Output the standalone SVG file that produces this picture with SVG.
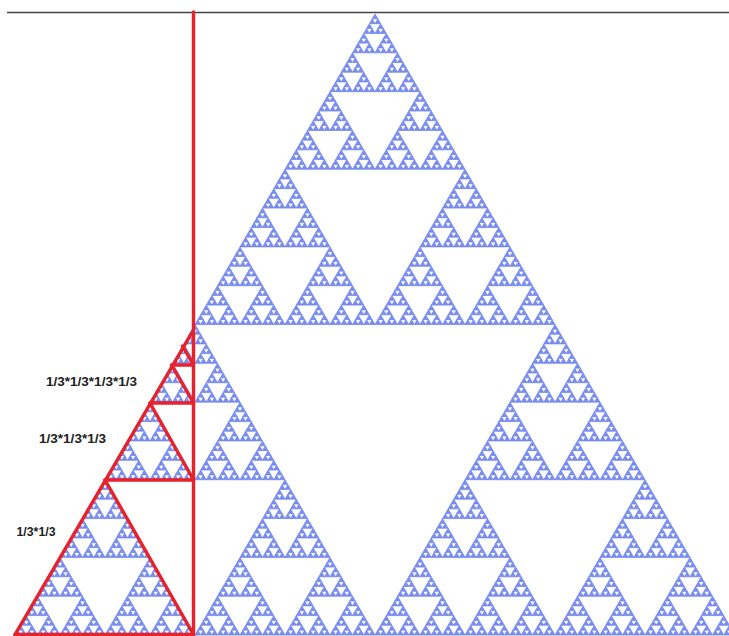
<svg xmlns="http://www.w3.org/2000/svg" xmlns:xlink="http://www.w3.org/1999/xlink" width="729" height="636" viewBox="0 0 729 636">
<style>
.red{stroke:#e8212b;stroke-width:3.4;fill:none;stroke-linecap:round;stroke-linejoin:round}
.lbl{font-family:"Liberation Sans",Arial,sans-serif;font-weight:bold;font-size:12px;fill:#222}
</style>
<defs>
<polygon id="L0" points="0,0 -1,1 1,1" fill="#7b8ff0" stroke="#6a80ec" stroke-width="0.7" vector-effect="non-scaling-stroke"/>
<g id="L1"><use href="#L0" transform="scale(.5)"/><use href="#L0" transform="translate(-.5,.5) scale(.5)"/><use href="#L0" transform="translate(.5,.5) scale(.5)"/></g>
<g id="L2"><use href="#L1" transform="scale(.5)"/><use href="#L1" transform="translate(-.5,.5) scale(.5)"/><use href="#L1" transform="translate(.5,.5) scale(.5)"/></g>
<g id="L3"><use href="#L2" transform="scale(.5)"/><use href="#L2" transform="translate(-.5,.5) scale(.5)"/><use href="#L2" transform="translate(.5,.5) scale(.5)"/></g>
<g id="L4"><use href="#L3" transform="scale(.5)"/><use href="#L3" transform="translate(-.5,.5) scale(.5)"/><use href="#L3" transform="translate(.5,.5) scale(.5)"/></g>
<g id="L5"><use href="#L4" transform="scale(.5)"/><use href="#L4" transform="translate(-.5,.5) scale(.5)"/><use href="#L4" transform="translate(.5,.5) scale(.5)"/></g>
<g id="L6"><use href="#L5" transform="scale(.5)"/><use href="#L5" transform="translate(-.5,.5) scale(.5)"/><use href="#L5" transform="translate(.5,.5) scale(.5)"/></g>
<g id="L7"><use href="#L6" transform="scale(.5)"/><use href="#L6" transform="translate(-.5,.5) scale(.5)"/><use href="#L6" transform="translate(.5,.5) scale(.5)"/></g>
</defs>
<rect width="729" height="636" fill="#fff"/>
<line x1="7" y1="12.5" x2="729" y2="12.5" stroke="#444" stroke-width="1.5"/>
<g id="sierpinski">
<use href="#L7" transform="translate(375,14) scale(360,621)"/>
</g>
<g id="red-overlay">
<line class="red" x1="193.5" y1="12" x2="193.5" y2="636"/>
<line class="red" x1="15" y1="634.5" x2="193.5" y2="634.5"/>
<line class="red" x1="15" y1="634.5" x2="193.5" y2="330"/>
<polyline class="red" points="105,480 193.5,634.5"/>
<line class="red" x1="105" y1="480" x2="193.5" y2="480"/>
<polyline class="red" points="150,403 193.5,480"/>
<line class="red" x1="150" y1="403" x2="193.5" y2="403"/>
<polyline class="red" points="171.5,365 193.5,403"/>
<line class="red" x1="171.5" y1="365" x2="193.5" y2="365"/>
<polyline class="red" points="182.5,346 193.5,365"/>
</g>
<g id="labels">
<text class="lbl" x="46" y="386" textLength="91" lengthAdjust="spacingAndGlyphs">1/3*1/3*1/3*1/3</text>
<text class="lbl" x="39" y="443" textLength="67" lengthAdjust="spacingAndGlyphs">1/3*1/3*1/3</text>
<text class="lbl" x="16.5" y="536" textLength="39" lengthAdjust="spacingAndGlyphs">1/3*1/3</text>
</g>
</svg>
